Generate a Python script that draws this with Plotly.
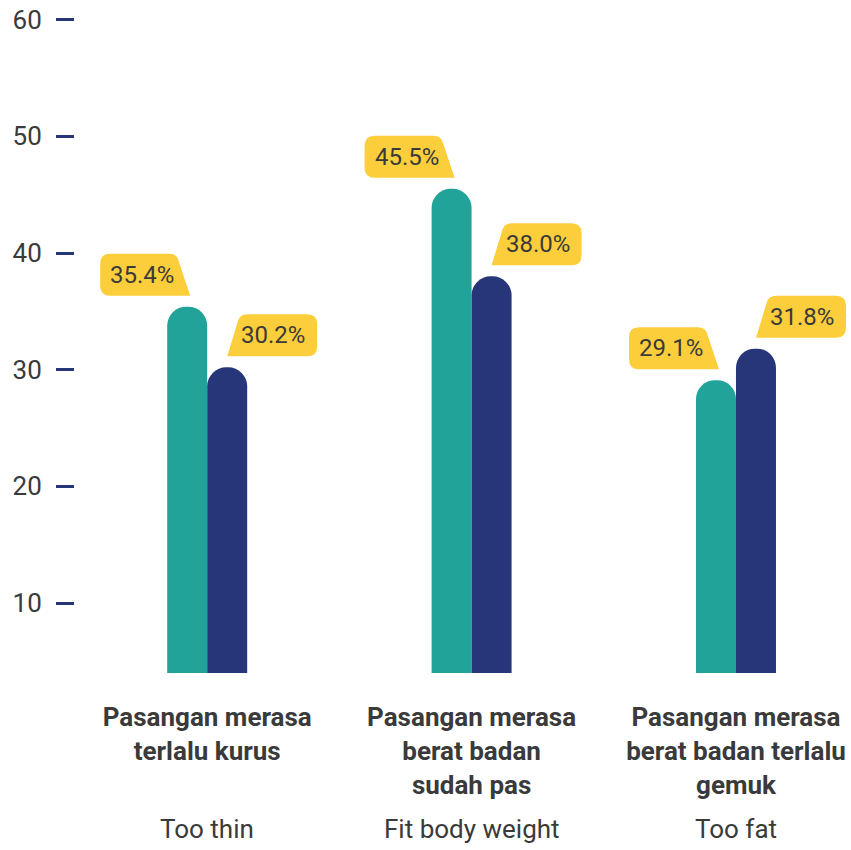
import plotly.graph_objects as go

# Categories (Indonesian heading + English subtitle)
categories_id = [
    "Pasangan merasa<br>terlalu kurus",
    "Pasangan merasa<br>berat badan<br>sudah pas",
    "Pasangan merasa<br>berat badan terlalu<br>gemuk",
]
categories_en = ["Too thin", "Fit body weight", "Too fat"]
category_keys = ["thin", "fit", "fat"]

# Two series (percentages)
series_a = [35.4, 45.5, 29.1]
series_b = [30.2, 38.0, 31.8]

y_ticks = [10, 20, 30, 40, 50, 60]

TEAL = "#22A39A"
NAVY = "#273679"
YELLOW = "#FDCE3B"
TEXT = "#3a3a3a"
FONT = "Roboto"

fig = go.Figure()
for vals, color in [(series_a, TEAL), (series_b, NAVY)]:
    fig.add_trace(go.Bar(
        x=category_keys,
        y=vals,
        marker=dict(color=color, cornerradius="50%", line=dict(width=0)),
        hoverinfo="skip",
    ))

# Callout bubbles (pixel geometry anchored at each bar top)
B, T, R = 11, 53, 10
left_path = (
    f"M -97,{B} L -17,{B} L -29,{T-6} Q -31,{T} -38,{T} "
    f"L -97,{T} Q -107,{T} -107,{T-R} L -107,{B+R} Q -107,{B} -97,{B} Z"
)
right_path = (
    f"M 20,{B} L 100,{B} Q 110,{B} 110,{B+R} L 110,{T-R} Q 110,{T} 100,{T} "
    f"L 40,{T} Q 33,{T} 31,{T-6} Z"
)

shapes = []
annotations = []
for key, va, vb in zip(category_keys, series_a, series_b):
    for val, path, dx in [(va, left_path, -65), (vb, right_path, 66)]:
        shapes.append(dict(
            type="path", xref="x", yref="y",
            xsizemode="pixel", ysizemode="pixel",
            xanchor=key, yanchor=val, path=path,
            fillcolor=YELLOW, line=dict(width=0), layer="above",
        ))
        annotations.append(dict(
            x=key, y=val, xref="x", yref="y",
            xshift=dx, yshift=32, showarrow=False,
            text=f"{val:.1f}%", font=dict(family=FONT, size=24, color=TEXT),
        ))

for key, en in zip(category_keys, categories_en):
    annotations.append(dict(
        x=key, y=-0.2345, xref="x", yref="paper", yanchor="middle",
        showarrow=False, text=en,
        font=dict(family=FONT, size=26, color=TEXT),
    ))

fig.update_layout(
    width=851, height=850,
    margin=dict(l=75, r=0, t=8, b=177),
    paper_bgcolor="white", plot_bgcolor="white",
    showlegend=False,
    barmode="group", bargap=0.6975, bargroupgap=0,
    shapes=shapes, annotations=annotations,
    font=dict(family=FONT, color=TEXT),
    xaxis=dict(
        tickmode="array", tickvals=category_keys,
        ticktext=[f"<b>{c}</b>" for c in categories_id],
        tickfont=dict(family=FONT, size=26, color=TEXT),
        ticks="", showline=False, showgrid=False, zeroline=False,
        range=[-0.5, 2.435],
        ticklabelstandoff=26, fixedrange=True,
    ),
    yaxis=dict(
        range=[4, 61], tickvals=y_ticks,
        tickfont=dict(family=FONT, size=26, color=TEXT),
        ticks="outside", ticklen=18, tickwidth=2.5, tickcolor=NAVY,
        ticklabelstandoff=9,
        showline=False, showgrid=False, zeroline=False, fixedrange=True,
    ),
)

fig.write_html("out.html")
